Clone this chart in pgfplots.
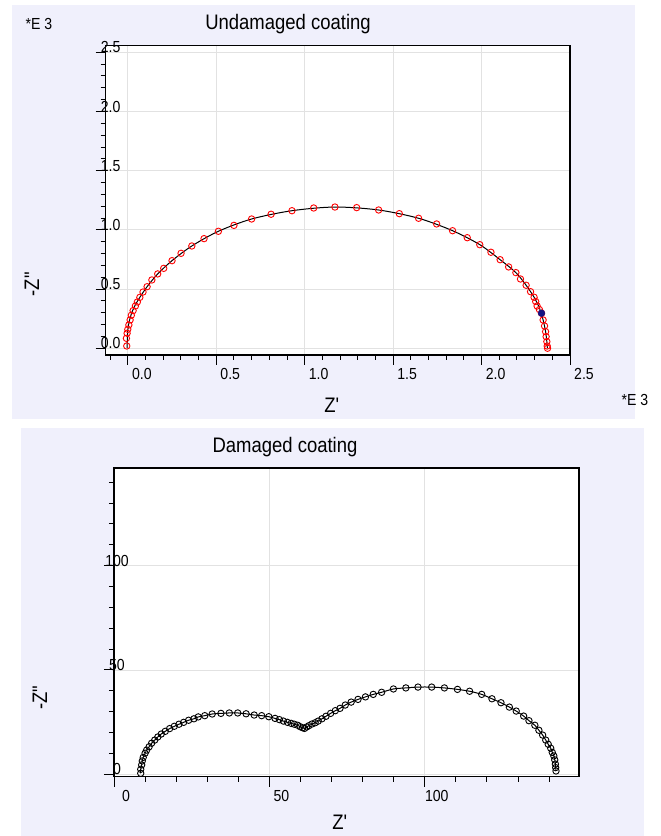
\documentclass[border=0pt]{standalone}
\usepackage{fontspec}
\setmainfont{Liberation Sans}
\newfontfamily\narrowfont[FakeStretch=0.88]{Liberation Sans}
\usepackage{pgfplots}
\pgfplotsset{compat=1.18}
\usepackage{pgfplotstable}

\definecolor{panelbg}{RGB}{240,240,252}
\definecolor{gridgray}{RGB}{226,226,226}
\definecolor{ptred}{RGB}{255,0,0}
\definecolor{selblue}{RGB}{20,20,130}

% Z' and -Z'' in units of 1E3 ohm (undamaged)
\pgfplotstableread{
zr zi
-0.006 0.019
-0.008 0.084
-0.004 0.127
0.000 0.160
0.006 0.197
0.013 0.239
0.020 0.279
0.030 0.318
0.043 0.357
0.054 0.391
0.068 0.430
0.086 0.475
0.109 0.520
0.136 0.577
0.169 0.628
0.203 0.675
0.250 0.740
0.301 0.802
0.362 0.864
0.431 0.926
0.512 0.988
0.600 1.038
0.700 1.092
0.810 1.132
0.928 1.162
1.051 1.185
1.171 1.193
1.294 1.188
1.418 1.168
1.535 1.137
1.644 1.098
1.746 1.050
1.836 0.993
1.919 0.934
1.990 0.875
2.053 0.811
2.105 0.748
2.153 0.687
2.194 0.639
2.220 0.585
2.252 0.532
2.277 0.478
2.297 0.431
2.306 0.395
2.314 0.357
2.327 0.327
2.339 0.296
2.348 0.239
2.356 0.188
2.362 0.140
2.365 0.098
2.369 0.056
2.371 0.019
2.373 0.000
}\undamaged

\pgfplotstableread{
zr zi
-0.004 0.000
-0.003 0.060
0.000 0.150
0.007 0.220
0.020 0.290
0.040 0.360
0.068 0.430
0.109 0.520
0.169 0.628
0.250 0.740
0.362 0.864
0.512 0.988
0.700 1.092
0.928 1.162
1.171 1.193
1.418 1.168
1.644 1.098
1.836 0.993
1.990 0.875
2.105 0.748
2.194 0.639
2.252 0.532
2.297 0.431
2.327 0.340
2.348 0.239
2.362 0.140
2.369 0.056
2.372 0.000
}\undamagedfit

% damaged coating, ohm
\pgfplotstableread{
zr zi
8.6 0.5
8.6 2.4
8.9 4.5
9.1 6.4
9.4 8.1
10.0 10.1
10.5 11.6
11.3 13.2
12.1 14.9
13.1 16.4
14.1 17.9
15.2 19.3
16.5 20.6
17.9 21.9
19.4 23.0
20.9 24.0
22.4 24.9
24.0 25.9
25.7 26.6
27.1 27.5
29.2 28.1
31.6 28.9
34.4 29.2
37.1 29.4
39.8 29.4
42.5 29.0
45.1 28.4
47.5 28.1
49.8 27.6
51.8 26.8
53.2 26.2
54.5 25.5
55.8 24.9
57.0 24.4
58.0 24.0
59.1 23.5
59.9 22.8
60.7 22.3
61.3 22.0
62.0 22.7
62.7 23.3
63.7 24.1
64.7 24.7
65.7 25.5
66.9 26.6
68.2 27.8
69.7 29.2
71.2 30.5
72.7 31.6
74.4 33.2
76.3 34.6
78.5 35.9
80.9 37.1
83.4 38.3
86.1 39.3
89.9 40.9
93.9 41.4
97.8 41.8
102.2 41.8
106.3 41.4
110.5 40.7
114.4 39.8
118.3 38.3
121.6 36.2
124.5 34.3
127.2 32.2
129.4 30.3
131.8 27.9
133.5 25.7
135.4 23.5
136.7 21.1
137.9 18.8
138.9 16.4
139.7 14.4
140.5 12.5
141.0 10.5
141.5 8.8
141.8 6.9
142.0 4.9
142.1 3.2
142.2 1.6
}\damaged

\pgfplotsset{
  eisaxis/.style={
    scale only axis, anchor=south west,
    axis line style={black, line width=1.2pt},
    tick align=outside, xtick pos=bottom, ytick pos=left,
    major tick length=10pt, minor tick length=5pt,
    every tick/.style={black, line width=1pt},
    grid=major, major grid style={gridgray, line width=0.8pt},
    ticklabel style={font=\narrowfont\fontsize{16}{16}\selectfont, inner sep=0pt},
    /pgf/number format/assume math mode=true,
    yticklabel style={anchor=south},
    xticklabel style={anchor=north},
    axis background/.style={fill=white},
  },
}

\begin{document}
\begin{tikzpicture}
\fill[white] (0,0) rectangle (661pt,836pt);
\fill[panelbg] (12pt,417pt) rectangle (635pt,831pt);
\fill[panelbg] (21pt,0pt) rectangle (644pt,408pt);

\begin{axis}[eisaxis,
    at={(105.7pt,481pt)}, width=464.3pt, height=309.3pt,
    xmin=-0.125, xmax=2.5, ymin=-0.057, ymax=2.556,
    xtick={0,0.5,1,1.5,2,2.5}, xticklabels={0.0,0.5,1.0,1.5,2.0,2.5},
    ytick={0,0.5,1,1.5,2,2.5}, yticklabels={0.0,0.5,1.0,1.5,2.0,2.5},
    minor xtick={-0.1,0,...,2.5}, minor ytick={0,0.1,...,2.5},
    xticklabel style={xshift=14pt, yshift=-3pt},
    yticklabel style={xshift=15pt, yshift=-1pt},
]
\addplot[ptred, only marks, mark=o, mark size=3.2pt, mark options={line width=0.9pt}] table[x=zr, y=zi] {\undamaged};
\addplot[black, line width=1pt, smooth] table[x=zr, y=zi] {\undamagedfit};
\addplot[selblue, only marks, mark=*, mark size=3.4pt] coordinates {(2.339,0.296)};
\end{axis}

\begin{axis}[eisaxis,
    at={(114pt,59.3pt)}, width=465pt, height=308.7pt,
    xmin=0, xmax=149.6, ymin=-1.15, ymax=146.8,
    xtick={0,50,100}, ytick={0,50,100},
    minor xtick={0,10,...,140}, minor ytick={0,10,...,140},
    xticklabel style={xshift=12pt, yshift=-3pt},
    yticklabel style={xshift=13pt, yshift=-1pt},
]
\addplot[black, only marks, mark=o, mark size=3.2pt, mark options={line width=0.9pt}] table[x=zr, y=zi] {\damaged};
\addplot[black, line width=1pt, smooth] table[x=zr, y=zi] {\damaged};
\end{axis}

\node[font=\narrowfont\fontsize{21}{21}\selectfont] at (288pt,812pt) {Undamaged coating};
\node[font=\narrowfont\fontsize{16}{16}\selectfont] at (39pt,812pt) {*E 3};
\node[font=\narrowfont\fontsize{16}{16}\selectfont] at (635pt,436pt) {*E 3};
\node[font=\narrowfont\fontsize{21}{21}\selectfont] at (332pt,431pt) {Z\textquotesingle};
\node[font=\narrowfont\fontsize{21}{21}\selectfont, rotate=90] at (32pt,552pt) {-Z\textquotedbl};

\node[font=\narrowfont\fontsize{21}{21}\selectfont] at (285pt,389pt) {Damaged coating};
\node[font=\narrowfont\fontsize{21}{21}\selectfont] at (340pt,14pt) {Z\textquotesingle};
\node[font=\narrowfont\fontsize{21}{21}\selectfont, rotate=90] at (40pt,139pt) {-Z\textquotedbl};
\end{tikzpicture}
\end{document}
